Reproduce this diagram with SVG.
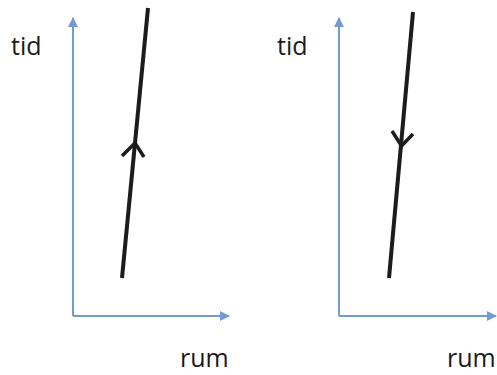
<svg xmlns="http://www.w3.org/2000/svg" width="497" height="375" viewBox="0 0 497 375">
<defs>
<style>
.axis{stroke:#739bd3;stroke-width:2;fill:none}
.wl{stroke:#1c1c1c;stroke-width:4;fill:none;stroke-linecap:butt}
.chev{stroke:#1c1c1c;stroke-width:3.5;fill:none;stroke-linejoin:miter}
.lbl{font-family:"Open Sans","Liberation Sans",sans-serif;font-size:25px;fill:#1a1a1a}
</style>
<marker id="ah" viewBox="0 0 10 10" refX="9" refY="5" markerWidth="5" markerHeight="5" markerUnits="strokeWidth" orient="auto">
<path d="M0,0 L10,5 L0,10 z" fill="#739bd3"/>
</marker>
</defs>
<g id="connectors">
<path class="axis" d="M73,316 V18" marker-end="url(#ah)"/>
<path class="axis" d="M73,316 H229" marker-end="url(#ah)"/>
<path class="axis" d="M339,316 V18" marker-end="url(#ah)"/>
<path class="axis" d="M339,316 H496" marker-end="url(#ah)"/>
</g>
<g id="worldline-left">
<line class="wl" x1="122" y1="278" x2="148" y2="8"/>
<polyline class="chev" points="122,156 135,143 144,157"/>
</g>
<g id="worldline-right">
<line class="wl" x1="389" y1="278" x2="413" y2="12"/>
<polyline class="chev" points="392,131 401.5,146 413,134"/>
</g>
<g id="labels">
<text class="lbl" x="11" y="55">tid</text>
<text class="lbl" x="277" y="55">tid</text>
<text class="lbl" x="180" y="367">rum</text>
<text class="lbl" x="447" y="367">rum</text>
</g>
</svg>
